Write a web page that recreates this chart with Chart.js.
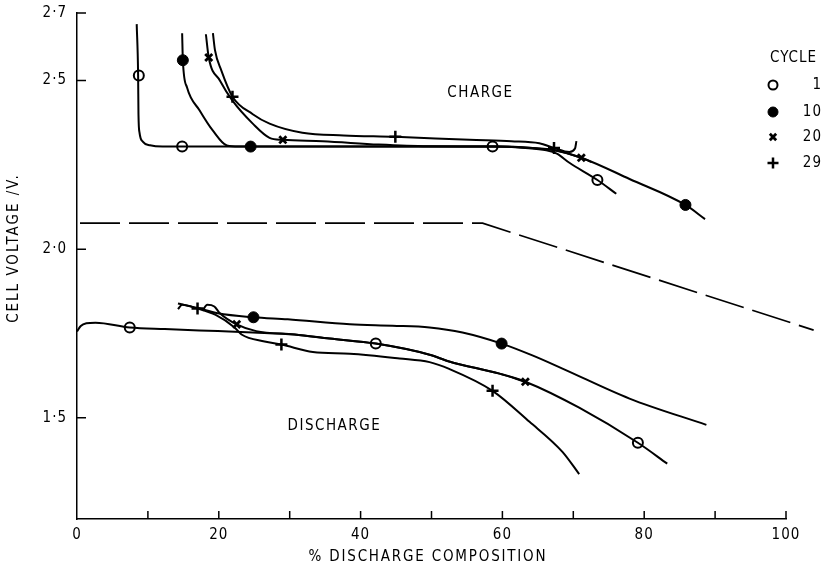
<!DOCTYPE html>
<html>
<head>
<meta charset="utf-8">
<script src="https://cdn.jsdelivr.net/npm/chart.js@4/dist/chart.umd.min.js"></script>
<style>
  html, body { margin: 0; padding: 0; background: #fff; }
  #chart { display: block; }
</style>
</head>
<body>
<canvas id="chart" width="821" height="571"></canvas>
<script>
// axis ticks
const xTickValues = [0, 20, 40, 60, 80, 100];
const xMinorTicks = [10, 20, 30, 40, 50, 60, 70, 80, 90, 100];
const yTickValues = [1.5, 2.0, 2.5, 2.7];
const yTickLabels = ['1·5', '2·0', '2·5', '2·7'];

// legend
const cycles = ['1', '10', '20', '29'];

// charge curves [x %, volts]
const chargeC1 = [[8.42, 2.667], [8.62, 2.515], [8.67, 2.40], [8.82, 2.345], [9.31, 2.318], [10.3, 2.308], [12.07, 2.304], [14.83, 2.304], [29.72, 2.304], [44.51, 2.304], [58.61, 2.304], [63.24, 2.30], [66.2, 2.293], [67.68, 2.283], [69.45, 2.256], [73.4, 2.205], [76.06, 2.164]];
const chargeC10 = [[14.83, 2.64], [14.93, 2.56], [15.52, 2.479], [17.3, 2.411], [19.17, 2.351], [21.14, 2.307], [22.82, 2.304], [24.49, 2.304], [39.58, 2.304], [59.3, 2.304], [64.23, 2.30], [67.18, 2.294], [71.13, 2.271], [77.93, 2.208], [85.82, 2.131], [88.58, 2.089]];
const chargeC20 = [[18.18, 2.637], [18.58, 2.568], [20.15, 2.50], [21.93, 2.44], [24.79, 2.372], [27.16, 2.33], [29.03, 2.324], [34.65, 2.32], [42.54, 2.31], [49.44, 2.305], [59.3, 2.304], [64.23, 2.30], [67.18, 2.294], [71.13, 2.271], [72.61, 2.258]];
const chargeC29 = [[19.17, 2.64], [19.46, 2.59], [20.35, 2.53], [21.93, 2.452], [24.79, 2.40], [27.16, 2.372], [31.79, 2.345], [37.6, 2.337], [44.9, 2.333], [55.35, 2.324], [61.27, 2.32], [65.21, 2.314], [67.28, 2.30], [69.45, 2.288], [70.24, 2.298], [70.44, 2.32]];

// discharge curves
const dischargeC1 = [[0, 1.756], [0.53, 1.772], [1.32, 1.78], [2.61, 1.782], [7.44, 1.768], [12.37, 1.763], [19.86, 1.757], [24.79, 1.753], [30.7, 1.747], [35.63, 1.735], [42.14, 1.72], [49.73, 1.687], [52.49, 1.667], [59.59, 1.631], [63.24, 1.607], [70.83, 1.53], [79.11, 1.426], [83.25, 1.364]];
const dischargeC10 = [[14.24, 1.839], [16.9, 1.826], [19.86, 1.81], [24.89, 1.798], [29.72, 1.792], [38.49, 1.777], [44.51, 1.773], [49.73, 1.768], [54.37, 1.753], [59.89, 1.72], [64.23, 1.685], [68.47, 1.646], [77.93, 1.557], [88.77, 1.479]];
const dischargeC20 = [[17.69, 1.817], [18.38, 1.835], [19.37, 1.83], [20.15, 1.81], [22.52, 1.777], [25.28, 1.757], [30.7, 1.747], [35.63, 1.735], [42.14, 1.72], [49.73, 1.687], [52.49, 1.667], [59.59, 1.631], [63.24, 1.607]];
const dischargeC29 = [[14.24, 1.822], [14.83, 1.835], [17.0, 1.824], [19.56, 1.805], [22.22, 1.768], [23.21, 1.747], [26.46, 1.726], [28.83, 1.717], [33.27, 1.695], [38.49, 1.69], [45.49, 1.676], [49.73, 1.665], [52.49, 1.645], [58.61, 1.58], [63.83, 1.488], [68.47, 1.399], [70.83, 1.333]];

// marked points per cycle
const marksC1 = [[8.72, 2.515], [14.83, 2.304], [58.61, 2.304], [73.4, 2.205], [7.44, 1.768], [42.14, 1.72], [79.11, 1.426]];
const marksC10 = [[14.93, 2.56], [24.49, 2.304], [85.82, 2.131], [24.89, 1.798], [59.89, 1.72]];
const marksC20 = [[18.58, 2.568], [29.03, 2.324], [71.13, 2.271], [22.52, 1.777], [63.24, 1.607]];
const marksC29 = [[21.93, 2.452], [44.9, 2.333], [67.28, 2.30], [17.0, 1.824], [28.83, 1.717], [58.61, 1.58]];

// dashed reference line
const dashedLine = [[0.42, 2.077], [57.2, 2.077], [103.9, 1.76]];

const FONT = '"DejaVu Sans Condensed", "DejaVu Sans", sans-serif';
const toXY = arr => arr.map(([x, y]) => ({ x, y }));

function curve(data) {
    return {
        data: toXY(data), showLine: true, borderColor: '#000', borderWidth: 2,
        pointRadius: 0, cubicInterpolationMode: 'monotone', fill: false
    };
}

const markerStyles = [
    { pointStyle: 'circle', radius: 5, bg: '#fff', bw: 2 },
    { pointStyle: 'circle', radius: 5.5, bg: '#000', bw: 1 },
    { pointStyle: 'crossRot', radius: 5, bg: '#000', bw: 2.8 },
    { pointStyle: 'cross', radius: 6, bg: '#000', bw: 2.5 }
];

function marks(data, i) {
    const m = markerStyles[i];
    return {
        data: toXY(data), showLine: false, pointStyle: m.pointStyle, pointRadius: m.radius,
        pointBackgroundColor: m.bg, pointBorderColor: '#000', pointBorderWidth: m.bw
    };
}

const decor = {
    id: 'decor',
    beforeDraw(chart) {
        chart.ctx.letterSpacing = '1px';
    },
    afterDraw(chart) {
        const { ctx, scales: { x, y } } = chart;
        ctx.save();
        ctx.strokeStyle = '#000';
        ctx.lineWidth = 1.5;
        ctx.beginPath();
        xMinorTicks.forEach(v => {
            const px = x.getPixelForValue(v);
            ctx.moveTo(px, y.bottom);
            ctx.lineTo(px, y.bottom - 8);
        });
        yTickValues.forEach(v => {
            const py = y.getPixelForValue(v);
            ctx.moveTo(x.left, py);
            ctx.lineTo(x.left + 9, py);
        });
        ctx.stroke();

        ctx.fillStyle = '#000';
        ctx.letterSpacing = '1.5px';
        ctx.font = '15px ' + FONT;
        ctx.textAlign = 'center';
        ctx.textBaseline = 'middle';
        ctx.fillText('CHARGE', x.getPixelForValue(56.9), y.getPixelForValue(2.464));
        ctx.fillText('DISCHARGE', x.getPixelForValue(36.3), y.getPixelForValue(1.476));

        // axis titles
        ctx.letterSpacing = '1.8px';
        ctx.fillText('% DISCHARGE COMPOSITION', 428, 557);
        ctx.save();
        ctx.letterSpacing = '2px';
        ctx.translate(14, 248);
        ctx.rotate(-Math.PI / 2);
        ctx.fillText('CELL VOLTAGE /V.', 0, 0);
        ctx.restore();

        // legend
        ctx.letterSpacing = '1px';
        ctx.textAlign = 'left';
        ctx.fillText('CYCLE', 770, 58);
        const rows = [85, 112, 137, 163];
        cycles.forEach((c, i) => {
            const m = markerStyles[i];
            ctx.fillStyle = m.bg;
            ctx.lineWidth = m.bw;
            Chart.helpers.drawPoint(ctx, { pointStyle: m.pointStyle, radius: m.radius - 0.5, borderWidth: m.bw }, 773, rows[i]);
            ctx.fillStyle = '#000';
            ctx.textAlign = 'right';
            ctx.fillText(c, 822, rows[i]);
        });
        ctx.restore();
    }
};

function noPad(s) {
    s.paddingTop = 0;
    s.paddingBottom = 0;
    s.paddingLeft = 0;
    s.paddingRight = 0;
}

new Chart(document.getElementById('chart'), {
    type: 'scatter',
    data: {
        datasets: [
            Object.assign(curve(dashedLine), { borderDash: [40, 9], borderWidth: 1.7, cubicInterpolationMode: 'default', tension: 0, clip: false }),
            curve(chargeC1), curve(chargeC10), curve(chargeC20), curve(chargeC29),
            curve(dischargeC1), curve(dischargeC10), curve(dischargeC20), curve(dischargeC29),
            marks(marksC1, 0), marks(marksC10, 1), marks(marksC20, 2), marks(marksC29, 3)
        ]
    },
    options: {
        responsive: false,
        animation: false,
        devicePixelRatio: 1,
        layout: { padding: { top: 13, right: 35, left: 0, bottom: 0 } },
        plugins: { legend: { display: false }, tooltip: { enabled: false } },
        scales: {
            x: {
                type: 'linear', min: 0, max: 100,
                afterBuildTicks: s => { s.ticks = xTickValues.map(v => ({ value: v })); },
                afterFit: s => { s.height = 52; noPad(s); },
                grid: { drawOnChartArea: false, drawTicks: false },
                border: { color: '#000', width: 1.5 },
                ticks: { color: '#000', font: { family: FONT, size: 15 }, padding: 7, maxRotation: 0 },
                title: { display: false }
            },
            y: {
                type: 'linear', min: 1.2, max: 2.7,
                afterBuildTicks: s => { s.ticks = yTickValues.map(v => ({ value: v })); },
                afterFit: s => { s.width = 77; noPad(s); },
                grid: { drawOnChartArea: false, drawTicks: false },
                border: { color: '#000', width: 1.5 },
                ticks: {
                    color: '#000', font: { family: FONT, size: 15 }, padding: 10,
                    callback: v => yTickLabels[yTickValues.indexOf(v)]
                },
                title: { display: false }
            }
        }
    },
    plugins: [decor]
});
</script>
</body>
</html>
